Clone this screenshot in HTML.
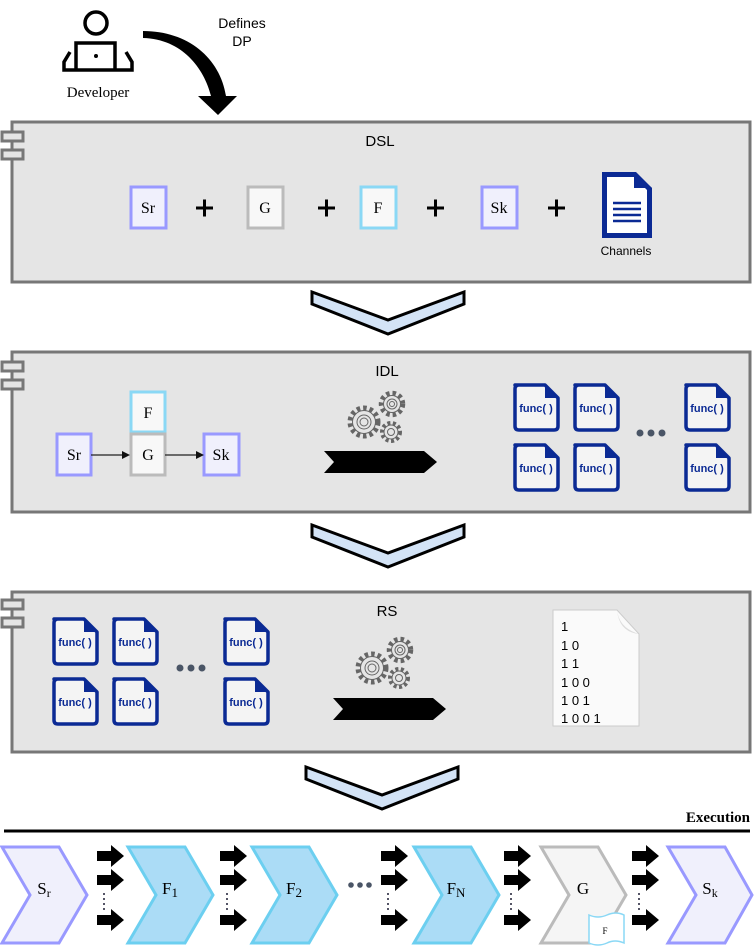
<!DOCTYPE html>
<html><head><meta charset="utf-8"><style>
html,body{margin:0;padding:0;background:#fff;}
svg{display:block;}
.s{font-family:"Liberation Serif",serif;}
.a{font-family:"Liberation Sans",sans-serif;}
</style></head><body>
<svg width="754" height="947" viewBox="0 0 754 947" xmlns="http://www.w3.org/2000/svg">
<defs>
<g id="fd">
<path d="M3,3 h30 l13,13 v28 q0,4 -4,4 h-35 q-4,0 -4,-4 v-37 q0,-4 4,-4z" fill="#f4f4f4" stroke="#0b2a94" stroke-width="3.5" stroke-linejoin="round"/>
<path d="M33,3 l13,13 h-13z" fill="#0b2a94"/>
</g>
<g id="gear" fill="none" stroke="#666" stroke-width="1">
<circle cx="18" cy="32" r="14" stroke-dasharray="3.5 3" stroke-width="5"/>
<circle cx="18" cy="32" r="11.5" fill="#e5e5e5"/>
<circle cx="18" cy="32" r="7"/><circle cx="18" cy="32" r="4"/>
<circle cx="46" cy="14" r="11" stroke-dasharray="3.5 3" stroke-width="4.5"/>
<circle cx="46" cy="14" r="8.5" fill="#e5e5e5"/>
<circle cx="46" cy="14" r="5"/><circle cx="46" cy="14" r="2.5"/>
<circle cx="45" cy="42" r="9" stroke-dasharray="3 2.5" stroke-width="4"/>
<circle cx="45" cy="42" r="7" fill="#e5e5e5"/>
<circle cx="45" cy="42" r="3.5"/>
</g>
<g id="tabs">
<rect x="2" y="10" width="21" height="9" fill="#e5e5e5" stroke="#777" stroke-width="3"/>
<rect x="2" y="28" width="21" height="9" fill="#e5e5e5" stroke="#777" stroke-width="3"/>
</g>
<path id="vee" d="M0,0 L76,28 L152,0 L152,12 L76,42 L0,12 Z" fill="#d3e3f6" stroke="#000" stroke-width="3" stroke-linejoin="miter"/>
<path id="arr" d="M0,-5 h14 v-6 l13,11 l-13,11 v-6 h-14z" fill="#000"/>
<g id="ag">
<use href="#arr" x="0" y="856"/><use href="#arr" x="0" y="880"/><use href="#arr" x="0" y="920"/>
<line x1="7" y1="893" x2="7" y2="910" stroke="#556" stroke-width="2" stroke-dasharray="2 3"/>
</g>
</defs>

<!-- Developer -->
<circle cx="96" cy="23" r="11" fill="none" stroke="#000" stroke-width="3.5"/>
<path d="M76,70 v-27 h39 v27" fill="none" stroke="#000" stroke-width="3.5"/>
<circle cx="96" cy="56" r="2" fill="#000"/>
<path d="M70,52 l-6,10 v8 h68 v-8 l-6,-10" fill="none" stroke="#000" stroke-width="3.5"/>
<text x="98" y="97" class="s" font-size="15" text-anchor="middle">Developer</text>
<text x="242" y="28" class="a" font-size="14" text-anchor="middle">Defines</text>
<text x="242" y="46" class="a" font-size="14" text-anchor="middle">DP</text>
<path d="M143,31 C188,31 220,58 226,96 L237,96 L218,115 L198,96 L211,96 C204,68 182,39 143,38 Z" fill="#000"/>

<!-- DSL -->
<rect x="12" y="122" width="738" height="160" fill="#e5e5e5" stroke="#777" stroke-width="3"/>
<use href="#tabs" x="0" y="122"/>
<text x="380" y="146" class="a" font-size="15" text-anchor="middle">DSL</text>
<g class="s" font-size="16" text-anchor="middle">
<rect x="131" y="187" width="35" height="41" fill="#f0f0fc" stroke="#9999ff" stroke-width="3"/><text x="148" y="213">Sr</text>
<rect x="248" y="187" width="35" height="41" fill="#f8f8f8" stroke="#bbb" stroke-width="3"/><text x="265" y="213">G</text>
<rect x="361" y="187" width="35" height="41" fill="#f8f8f8" stroke="#8ad8f5" stroke-width="3"/><text x="378" y="213">F</text>
<rect x="482" y="187" width="35" height="41" fill="#f0f0fc" stroke="#9999ff" stroke-width="3"/><text x="499" y="213">Sk</text>
</g>
<g stroke="#000" stroke-width="3">
<path d="M196,208 h17 M204.5,199.5 v17"/><path d="M318,208 h17 M326.5,199.5 v17"/>
<path d="M427,208 h17 M435.5,199.5 v17"/><path d="M548,208 h17 M556.5,199.5 v17"/>
</g>
<path d="M602,172 h34 l16,16 v50 h-50z" fill="#0b2a94"/>
<path d="M607,177 h27 l13,13 v43 h-40z" fill="#fff"/>
<path d="M634,172 v16 h18" fill="#0b2a94"/>
<g stroke="#0b2a94" stroke-width="2.5"><path d="M613,203 h28 M613,209 h28 M613,215 h28 M613,221 h28"/></g>
<text x="626" y="255" class="a" font-size="12" text-anchor="middle">Channels</text>

<use href="#vee" x="312" y="292"/>

<!-- IDL -->
<rect x="12" y="352" width="738" height="160" fill="#e5e5e5" stroke="#777" stroke-width="3"/>
<use href="#tabs" x="0" y="352"/>
<text x="387" y="376" class="a" font-size="15" text-anchor="middle">IDL</text>
<g class="s" font-size="16" text-anchor="middle">
<rect x="131" y="392" width="34" height="40" fill="#f8f8f8" stroke="#8ad8f5" stroke-width="3"/><text x="148" y="418">F</text>
<rect x="131" y="434" width="34" height="41" fill="#f8f8f8" stroke="#bbb" stroke-width="3"/><text x="148" y="460">G</text>
<rect x="57" y="434" width="34" height="41" fill="#f0f0fc" stroke="#9999ff" stroke-width="3"/><text x="74" y="460">Sr</text>
<rect x="204" y="434" width="35" height="41" fill="#f0f0fc" stroke="#9999ff" stroke-width="3"/><text x="221" y="460">Sk</text>
</g>
<path d="M91,455 h32 M165,455 h32" stroke="#222" stroke-width="1.2"/>
<path d="M130,455 l-8,-4 v8z M204,455 l-8,-4 v8z" fill="#111"/>
<use href="#gear" x="346" y="390"/>
<path d="M324,451 h100 l13,11 l-13,11 h-100 l10,-11z" fill="#000"/>
<g class="a" font-size="11" font-weight="bold" fill="#0b2a94" text-anchor="middle">
<use href="#fd" x="512" y="382"/><text x="536" y="412">func( )</text>
<use href="#fd" x="572" y="382"/><text x="596" y="412">func( )</text>
<use href="#fd" x="683" y="382"/><text x="707" y="412">func( )</text>
<use href="#fd" x="512" y="442"/><text x="536" y="472">func( )</text>
<use href="#fd" x="572" y="442"/><text x="596" y="472">func( )</text>
<use href="#fd" x="683" y="442"/><text x="707" y="472">func( )</text>
</g>
<g fill="#4a5566"><circle cx="640" cy="433" r="3.5"/><circle cx="651" cy="433" r="3.5"/><circle cx="662" cy="433" r="3.5"/></g>

<use href="#vee" x="312" y="525"/>

<!-- RS -->
<rect x="12" y="592" width="738" height="160" fill="#e5e5e5" stroke="#777" stroke-width="3"/>
<use href="#tabs" x="0" y="590"/>
<text x="387" y="616" class="a" font-size="15" text-anchor="middle">RS</text>
<g class="a" font-size="11" font-weight="bold" fill="#0b2a94" text-anchor="middle">
<use href="#fd" x="51" y="616"/><text x="75" y="646">func( )</text>
<use href="#fd" x="111" y="616"/><text x="135" y="646">func( )</text>
<use href="#fd" x="222" y="616"/><text x="246" y="646">func( )</text>
<use href="#fd" x="51" y="676"/><text x="75" y="706">func( )</text>
<use href="#fd" x="111" y="676"/><text x="135" y="706">func( )</text>
<use href="#fd" x="222" y="676"/><text x="246" y="706">func( )</text>
</g>
<g fill="#4a5566"><circle cx="180" cy="668" r="3.5"/><circle cx="191" cy="668" r="3.5"/><circle cx="202" cy="668" r="3.5"/></g>
<use href="#gear" x="354" y="636"/>
<path d="M333,698 h100 l13,11 l-13,11 h-100 l10,-11z" fill="#000"/>
<path d="M553,610 h64 l22,24 v92 h-86z" fill="#fafafa" stroke="#ccc" stroke-width="1"/>
<path d="M617,610 q2,18 22,24 q-20,-2 -22,-24z" fill="#ddd"/>
<g class="a" font-size="13" fill="#000">
<text x="561" y="631">1</text><text x="561" y="650">1  0</text><text x="561" y="668">1  1</text>
<text x="561" y="687">1  0  0</text><text x="561" y="705">1  0  1</text><text x="561" y="723">1  0  0  1</text>
</g>

<use href="#vee" x="306" y="767"/>

<!-- Execution -->
<text x="750" y="822" class="s" font-size="15" font-weight="bold" text-anchor="end">Execution</text>
<line x1="4" y1="831" x2="750" y2="831" stroke="#000" stroke-width="3"/>
<g stroke-width="3" stroke-linejoin="miter">
<path d="M2,847 h57 l28,48 l-28,48 h-57 l28,-48z" fill="#f0f0fc" stroke="#9999ff"/>
<path d="M128,847 h57 l28,48 l-28,48 h-57 l28,-48z" fill="#abdcf6" stroke="#6ccff0"/>
<path d="M252,847 h57 l28,48 l-28,48 h-57 l28,-48z" fill="#abdcf6" stroke="#6ccff0"/>
<path d="M414,847 h57 l28,48 l-28,48 h-57 l28,-48z" fill="#abdcf6" stroke="#6ccff0"/>
<path d="M541,847 h57 l28,48 l-28,48 h-57 l28,-48z" fill="#f5f5f5" stroke="#bbb"/>
<path d="M668,847 h57 l27,48 l-27,48 h-57 l28,-48z" fill="#f0f0fc" stroke="#9999ff"/>
</g>
<g class="s" font-size="17" text-anchor="middle">
<text x="44" y="894">S<tspan font-size="12" dy="3">r</tspan></text>
<text x="170" y="894">F<tspan font-size="13" dy="3">1</tspan></text>
<text x="294" y="894">F<tspan font-size="13" dy="3">2</tspan></text>
<text x="456" y="894">F<tspan font-size="13" dy="3">N</tspan></text>
<text x="583" y="894">G</text>
<text x="710" y="894">S<tspan font-size="12" dy="3">k</tspan></text>
</g>
<path d="M589,915 q9,4 18,0 q9,-4 17,0 v28 q-9,-4 -17,0 q-9,4 -18,0z" fill="#fff" stroke="#8ad8f5" stroke-width="1.5"/>
<text x="605" y="934" class="s" font-size="9" text-anchor="middle">F</text>
<use href="#ag" x="97" y="0"/>
<use href="#ag" x="220" y="0"/>
<use href="#ag" x="381" y="0"/>
<use href="#ag" x="504" y="0"/>
<use href="#ag" x="632" y="0"/>
<g fill="#4a5566"><circle cx="351" cy="885" r="2.8"/><circle cx="360" cy="885" r="2.8"/><circle cx="369" cy="885" r="2.8"/></g>
</svg>
</body></html>
